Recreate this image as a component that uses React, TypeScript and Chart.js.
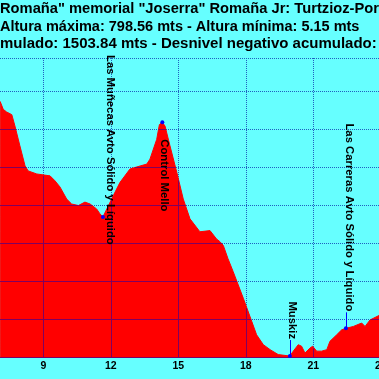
import React, { useEffect, useRef } from 'react';
import { Chart, registerables } from 'chart.js';

Chart.register(...registerables);

// Distance (km) and altitude (m) read from the profile
const distanceKm = [
  7.08, 7.22, 7.37, 7.6, 7.74, 7.96, 8.19, 8.33, 8.71, 9.3, 9.52, 9.74, 10.04, 10.26, 10.56,
  10.85, 11.08, 11.37, 11.52, 11.65, 12.11, 12.41, 12.85, 13.3, 13.6, 13.74, 14.04, 14.16,
  14.29, 14.41, 14.63, 14.93, 15.22, 15.52, 15.96, 16.41, 16.7, 16.85, 17.0, 17.21, 17.44,
  17.89, 18.26, 18.48, 18.78, 19.08, 19.44, 19.96, 20.11, 20.33, 20.48, 20.63, 20.85, 20.97,
  21.15, 21.37, 21.6, 21.74, 22.04, 22.26, 22.45, 22.78, 23.15, 23.3, 23.52, 23.96,
];
const altitudeM = [
  675, 654, 647, 640, 610, 558, 505, 492, 484, 479, 466, 450, 418, 405, 401,
  410, 405, 392, 379, 371, 427, 462, 497, 505, 510, 523, 575, 614,
  620, 610, 558, 489, 418, 366, 332, 335, 313, 306, 296, 261, 227,
  157, 97, 61, 35, 22, 9, 5.15, 18, 35, 31, 13, 26, 31,
  18, 18, 22, 44, 61, 74, 78, 83, 92, 83, 100, 113,
];

const xTickValues = [9, 12, 15, 18, 21, 24];
const yGridValues = [0, 100, 200, 300, 400, 500, 600, 700];

const waypointNames = [
  'Las Muñecas Avto Sólido y Líquido',
  'Control Mello',
  'Muskiz',
  'Las Carreras Avto Sólido y Líquido',
];
const waypointKm = [11.65, 14.29, 19.96, 22.45];
const waypointAlt = [371, 620, 5.15, 78];

const titleLines = [
  'Romaña" memorial "Joserra" Romaña Jr: Turtzioz-Por',
  'Altura máxima: 798.56 mts - Altura mínima: 5.15 mts',
  'mulado: 1503.84 mts - Desnivel negativo acumulado:',
];

// styling
const CYAN = '#66ffff';
const GRID_ON_SKY = '#2060c0';
const GRID_ON_FILL = '#800060';
const TITLE_SIZES = [14.7, 14.5, 15];
const TITLE_BASELINES = [13, 30.5, 48];
const LABEL_DX = [7, 2, 2, 3];

const titlePlugin = {
  id: 'titleLines',
  afterDraw(chart: any) {
    const ctx = chart.ctx;
    ctx.save();
    ctx.fillStyle = '#000';
    ctx.textAlign = 'left';
    ctx.textBaseline = 'alphabetic';
    titleLines.forEach((t, i) => {
      ctx.font = `bold ${TITLE_SIZES[i]}px "Liberation Sans", Arial, sans-serif`;
      ctx.fillText(t, 0, TITLE_BASELINES[i]);
    });
    ctx.restore();
  },
};

function gridGeometry(chart: any) {
  const { chartArea, scales } = chart;
  const xs = xTickValues.map((v) => Math.round(scales.x.getPixelForValue(v)) + 0.5);
  const ys = yGridValues.map((v) => Math.round(scales.y.getPixelForValue(v)) - 0.5);
  ys.push(Math.round(chartArea.top) + 0.5);
  return { xs, ys };
}

// dotted grid under the fill: it only remains visible in the sky
const skyGridPlugin = {
  id: 'skyGrid',
  beforeDatasetsDraw(chart: any) {
    const { ctx, chartArea } = chart;
    const { left, right, top, bottom } = chartArea;
    const { xs, ys } = gridGeometry(chart);
    ctx.save();
    ctx.lineWidth = 1;
    ctx.strokeStyle = GRID_ON_SKY;
    ctx.setLineDash([1, 1]);
    ctx.beginPath();
    xs.forEach((x) => {
      ctx.moveTo(x, top);
      ctx.lineTo(x, bottom);
    });
    ys.forEach((y) => {
      ctx.moveTo(left, y);
      ctx.lineTo(right, y);
    });
    ctx.stroke();
    ctx.restore();
  },
};

// solid grid segments drawn only across the red fill
const fillGridPlugin = {
  id: 'fillGrid',
  afterDatasetsDraw(chart: any) {
    const { ctx, chartArea } = chart;
    const { bottom } = chartArea;
    const pts = chart.getDatasetMeta(0).data.map((p: any) => ({ x: p.x, y: p.y }));
    const { xs, ys } = gridGeometry(chart);
    ctx.save();
    ctx.lineWidth = 1;
    ctx.strokeStyle = GRID_ON_FILL;
    ctx.setLineDash([]);
    ctx.beginPath();
    // vertical lines: from the profile down to the base
    xs.forEach((x) => {
      for (let i = 0; i < pts.length - 1; i++) {
        const a = pts[i];
        const b = pts[i + 1];
        if (x >= a.x && x <= b.x) {
          const t = (x - a.x) / (b.x - a.x || 1);
          const yp = a.y + t * (b.y - a.y);
          ctx.moveTo(x, yp + 1);
          ctx.lineTo(x, bottom);
          break;
        }
      }
    });
    // horizontal lines: only where the profile is above the line
    ys.forEach((y) => {
      let startX: number | null = pts[0].y < y ? pts[0].x : null;
      for (let i = 0; i < pts.length - 1; i++) {
        const a = pts[i];
        const b = pts[i + 1];
        const aIn = a.y < y;
        const bIn = b.y < y;
        if (aIn !== bIn) {
          const t = (y - a.y) / (b.y - a.y);
          const cx = a.x + t * (b.x - a.x);
          if (bIn) startX = cx;
          else if (startX !== null) {
            ctx.moveTo(startX, y);
            ctx.lineTo(cx, y);
            startX = null;
          }
        }
      }
      if (startX !== null) {
        ctx.moveTo(startX, y);
        ctx.lineTo(pts[pts.length - 1].x, y);
      }
    });
    ctx.stroke();
    ctx.restore();
  },
};

const waypointPlugin = {
  id: 'waypoints',
  afterDraw(chart: any) {
    const { ctx, chartArea, scales } = chart;
    const gap = 17;
    ctx.save();
    ctx.font = 'bold 11.3px "Liberation Sans", Arial, sans-serif';
    waypointNames.forEach((name, i) => {
      const x = scales.x.getPixelForValue(waypointKm[i]);
      const y = scales.y.getPixelForValue(waypointAlt[i]);
      const w = ctx.measureText(name).width;
      let start = y - gap - w;
      let above = true;
      if (start < chartArea.top - 4) {
        above = false;
        start = y + gap;
        if (start + w > chartArea.bottom) start = chartArea.top - 3;
      }
      if (above) {
        ctx.strokeStyle = '#0000ff';
        ctx.lineWidth = 1;
        ctx.beginPath();
        ctx.moveTo(Math.round(x) + 0.5, y);
        ctx.lineTo(Math.round(x) + 0.5, y - gap + 1);
        ctx.stroke();
      }
      ctx.fillStyle = '#0000ff';
      ctx.beginPath();
      ctx.arc(x, y, 2, 0, Math.PI * 2);
      ctx.fill();
      ctx.save();
      ctx.translate(x + LABEL_DX[i], start);
      ctx.rotate(Math.PI / 2);
      ctx.fillStyle = '#000';
      ctx.textAlign = 'left';
      ctx.textBaseline = 'middle';
      ctx.fillText(name, 0, 0);
      ctx.restore();
    });
    ctx.restore();
  },
};

export default function App() {
  const ref = useRef<HTMLCanvasElement | null>(null);
  useEffect(() => {
    if (!ref.current) return;
    const pxPerKm = 22.5;
    const px9 = 43.3;
    const canvasW = 400;
    const rightEdge = 392;
    const chart = new Chart(ref.current, {
      type: 'line',
      data: {
        datasets: [
          {
            data: distanceKm.map((d, i) => ({ x: d, y: altitudeM[i] })),
            fill: 'origin',
            backgroundColor: '#ff0000',
            borderColor: '#ff0000',
            borderWidth: 1,
            pointRadius: 0,
            tension: 0,
          },
        ],
      },
      options: {
        responsive: false,
        animation: false,
        devicePixelRatio: 1,
        layout: { padding: { top: 58, left: 0, right: canvasW - rightEdge, bottom: 4.4 } },
        plugins: { legend: { display: false }, title: { display: false }, tooltip: { enabled: false } },
        scales: {
          x: {
            type: 'linear',
            min: 9 - px9 / pxPerKm,
            max: 9 + (rightEdge - px9) / pxPerKm,
            afterBuildTicks: (axis: any) => {
              axis.ticks = xTickValues.map((v) => ({ value: v }));
            },
            ticks: {
              autoSkip: false,
              maxRotation: 0,
              padding: 2,
              color: '#000',
              font: { family: '"Liberation Sans", Arial, sans-serif', size: 10.5, weight: 'bold' },
            },
            grid: { display: false, drawTicks: false },
            border: { display: false },
          },
          y: {
            min: 0,
            max: 789,
            ticks: { display: false, stepSize: 100, includeBounds: false },
            grid: { display: false, drawTicks: false },
            border: { display: false },
          },
        },
      },
      plugins: [skyGridPlugin, fillGridPlugin, waypointPlugin, titlePlugin],
    } as any);
    return () => chart.destroy();
  }, []);
  return (
    <div
      style={{
        position: 'fixed',
        left: 0,
        top: 0,
        width: 379,
        height: 379,
        overflow: 'hidden',
        background: CYAN,
      }}
    >
      <canvas ref={ref} width={400} height={379} style={{ display: 'block', width: 400, height: 379 }} />
    </div>
  );
}
